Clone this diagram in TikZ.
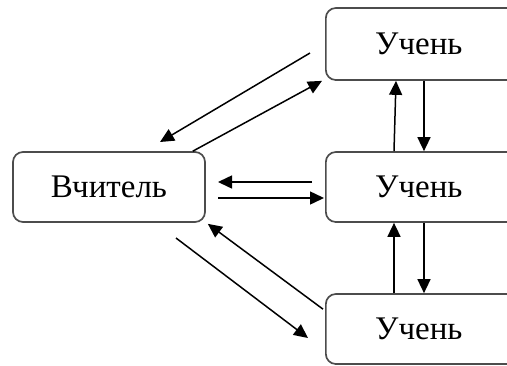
\documentclass[tikz,border=0pt]{standalone}
\usepackage{fontspec}
\setmainfont{Liberation Serif}
\usetikzlibrary{arrows.meta,calc}
\newcommand{\stud}{\makebox[186pt][c]{Учень}\hspace*{80pt}}
\begin{document}
\begin{tikzpicture}[x=1pt,y=-1pt,
  box/.style={draw=black!70,line width=1.7pt,rounded corners=10pt,inner sep=0pt,
    font=\fontsize{33}{38}\selectfont},
  sbox/.style={box,anchor=west,minimum width=266pt},
  arr/.style={line width=1.5pt,-{Triangle[length=14pt,width=13pt]}}]
\useasboundingbox (0,0) rectangle (507,365);
\node[box,minimum width=192pt,minimum height=70pt] (t) at (109,187) {Вчитель};
\node[sbox,minimum height=72pt] (s1) at (325,44) {\stud};
\node[sbox,minimum height=70pt] (s2) at (325,187) {\stud};
\node[sbox,minimum height=70pt] (s3) at (325,329) {\stud};
% free ends
\coordinate (a1s) at (310,53);
\coordinate (a1e) at (160,142);
\coordinate (a3s) at (312,182);
\coordinate (a3e) at (218,182);
\coordinate (a4s) at (218,198);
\coordinate (a6s) at (176,238);
\coordinate (a6e) at (308,338);
% teacher <-> top student
\draw[arr] (a1s) -- (a1e);
\draw[arr] ($(t.north east)+(-13,0)$) -- ($(s1.south west)+(-3,0)$);
% teacher <-> middle student
\draw[arr] (a3s) -- (a3e);
\draw[arr] (a4s) -- ($(s2.west)+(-1,11)$);
% teacher <-> bottom student
\draw[arr] ($(s3.north west)+(-2,16)$) -- ($(t.south east)+(2,1)$);
\draw[arr] (a6s) -- (a6e);
% verticals
\draw[arr] ($(s2.north west)+(69,0)$) -- ($(s1.south west)+(71,0)$);
\draw[arr] ($(s1.south west)+(99,0)$) -- ($(s2.north west)+(99,0)$);
\draw[arr] ($(s3.north west)+(69,0)$) -- ($(s2.south west)+(69,0)$);
\draw[arr] ($(s2.south west)+(99,0)$) -- ($(s3.north west)+(99,0)$);
\end{tikzpicture}
\end{document}
